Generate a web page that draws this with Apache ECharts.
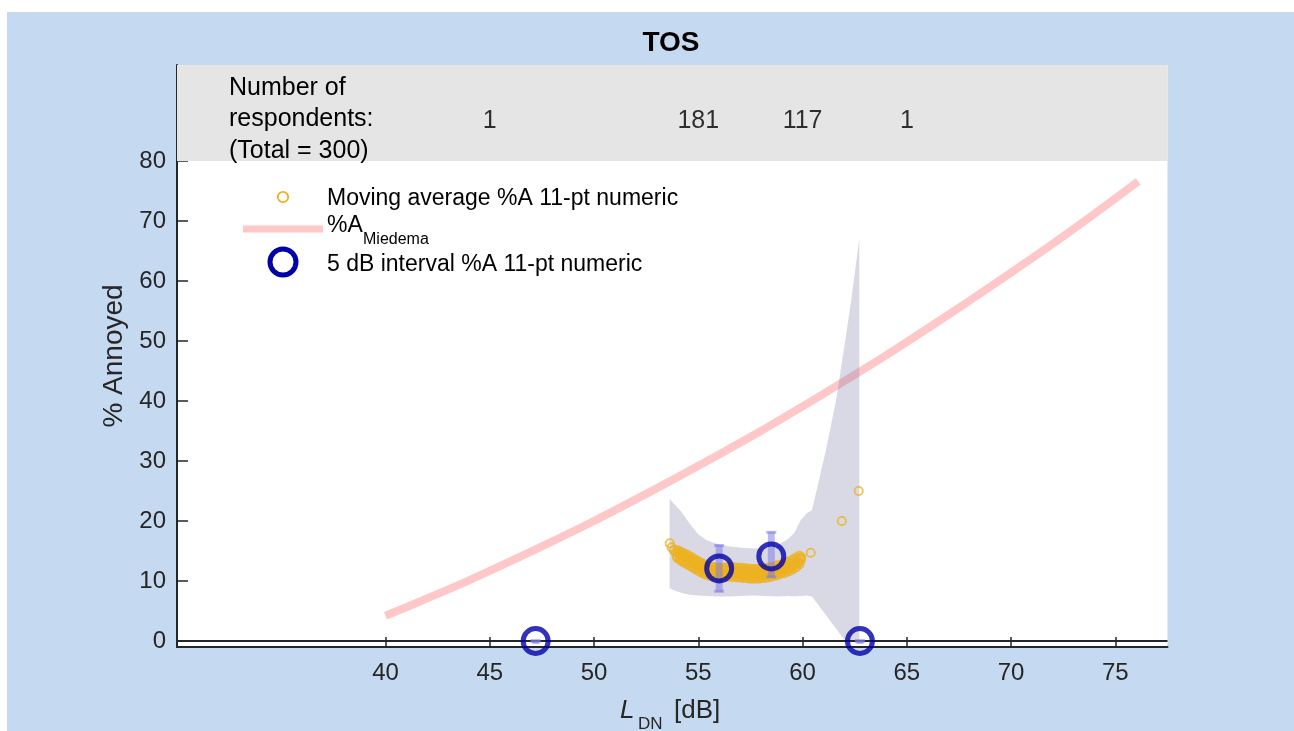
<!DOCTYPE html>
<html><head><meta charset="utf-8">
<script src="https://cdn.jsdelivr.net/npm/echarts@6/dist/echarts.min.js"></script>
<style>
html,body{margin:0;padding:0;background:#fff;width:1294px;height:731px;overflow:hidden}
#bg{position:absolute;left:7px;top:12px;width:1287px;height:719px;background:#c5d9f0}
#chart{position:absolute;left:0;top:0;width:1294px;height:731px}
</style></head><body><div id="bg"></div><div id="chart"></div>
<script>
const FONT = "'Liberation Sans', Arial, Helvetica, sans-serif";
const xTickValues = [40, 45, 50, 55, 60, 65, 70, 75];
const yTickValues = [0, 10, 20, 30, 40, 50, 60, 70, 80];

const miedemaX = [40, 42, 44, 46, 48, 50, 52, 54, 56, 58, 60, 62, 64, 66, 68, 70, 72, 74, 76.1];
const miedemaY = [4.2, 7.1, 10.1, 13.3, 16.6, 20.0, 23.6, 27.3, 31.1, 35.0, 39.1, 43.3, 47.6, 52.1, 56.7, 61.4, 66.2, 71.2, 76.6];

// moving-average cloud: x positions and rows across the dense band of circles (low .. high)
const maX     = [54.0, 54.15, 54.3, 54.45, 54.6, 54.75, 54.9, 55.05, 55.2, 55.35, 55.5, 55.65, 55.8, 55.95, 56.1, 56.25, 56.4, 56.55, 56.7, 56.85,
                 57.0, 57.15, 57.3, 57.45, 57.6, 57.75, 57.9, 58.05, 58.2, 58.35, 58.5, 58.65, 58.8, 58.95, 59.1, 59.25, 59.4, 59.55, 59.7, 59.85];
const maLow   = [13.8, 13.4, 13.1, 12.8, 12.5, 12.2, 11.9, 11.6, 11.3, 11.1, 10.9, 10.8, 10.7, 10.7, 10.6, 10.7, 10.7, 10.7, 10.7, 10.6,
                 10.6, 10.5, 10.5, 10.4, 10.4, 10.4, 10.4, 10.5, 10.5, 10.6, 10.7, 10.9, 11.0, 11.2, 11.3, 11.5, 11.7, 12.0, 12.3, 12.8];
const maLow2  = [14.15, 13.8, 13.5, 13.2, 12.9, 12.6, 12.3, 12.0, 11.7, 11.5, 11.3, 11.2, 11.1, 11.05, 11.0, 11.05, 11.1, 11.1, 11.1, 11.0,
                 11.0, 10.9, 10.9, 10.8, 10.8, 10.8, 10.8, 10.9, 10.9, 11.0, 11.1, 11.3, 11.4, 11.6, 11.7, 11.9, 12.1, 12.4, 12.7, 13.15];
const maMid   = [14.5, 14.2, 13.9, 13.6, 13.3, 13.0, 12.7, 12.4, 12.1, 11.9, 11.7, 11.6, 11.5, 11.45, 11.4, 11.45, 11.5, 11.5, 11.5, 11.45,
                 11.4, 11.35, 11.3, 11.25, 11.2, 11.2, 11.2, 11.25, 11.3, 11.4, 11.5, 11.65, 11.8, 11.95, 12.1, 12.3, 12.5, 12.8, 13.1, 13.5];
const maHigh2 = [14.8, 14.55, 14.25, 14.0, 13.7, 13.4, 13.1, 12.8, 12.5, 12.3, 12.1, 12.0, 11.9, 11.85, 11.8, 11.85, 11.9, 11.9, 11.9, 11.85,
                 11.8, 11.7, 11.7, 11.6, 11.6, 11.6, 11.6, 11.6, 11.7, 11.8, 11.9, 12.0, 12.2, 12.3, 12.5, 12.7, 12.9, 13.2, 13.5, 13.85];
const maHigh  = [15.1, 14.9, 14.6, 14.4, 14.1, 13.8, 13.5, 13.2, 12.9, 12.7, 12.5, 12.4, 12.3, 12.2, 12.2, 12.2, 12.3, 12.3, 12.3, 12.2,
                 12.2, 12.1, 12.1, 12.0, 12.0, 12.0, 12.0, 12.0, 12.1, 12.2, 12.3, 12.4, 12.6, 12.7, 12.9, 13.1, 13.3, 13.6, 13.9, 14.2];
const maSparse = [[53.63, 16.3], [53.72, 15.6], [53.83, 15.1], [53.92, 14.8], [59.94, 13.9], [60.39, 14.7], [61.88, 20.0], [62.69, 25.0]];

const bandX     = [53.62, 53.8, 54.2, 54.6, 55.0, 55.4, 55.8, 56.4, 57.0, 57.6, 58.2, 58.8, 59.3, 59.6, 59.9, 60.2, 60.45, 61.1, 61.6, 62.0, 62.3, 62.72];
const bandUpper = [23.7, 23.0, 21.5, 19.5, 17.8, 16.8, 16.3, 15.8, 15.6, 15.4, 15.5, 16.0, 17.0, 18.0, 20.1, 21.3, 21.8, 31.5, 40.0, 49.0, 56.0, 67.0];
const bandLower = [8.8, 8.5, 8.0, 7.7, 7.6, 7.5, 7.4, 7.4, 7.5, 7.6, 7.5, 7.4, 7.5, 7.4, 7.5, 7.6, 7.4, 4.4, 2.1, 0.2, 0.0, 0.0];

const intervalX    = [47.2, 56.0, 58.5, 62.75];
const intervalY    = [0, 12.1, 14.1, 0];
const intervalLow  = [0, 8.2, 10.6, 0];
const intervalHigh = [0, 16.0, 18.2, 0];

const respondentCounts = [1, 181, 117, 1];
const respondentLabelX = [45, 55, 60, 65];
const respondentLabelY = 86.7;

const chart = echarts.init(document.getElementById('chart'), null, {renderer: 'canvas'});

const zip = (a, b) => a.map((v, i) => [v, b[i]]);
const shift = (a, d) => a.map(v => v + d);
const movingAverage = [].concat(
  maSparse.slice(0, 4),
  zip(maX, maLow), zip(shift(maX, -0.035), maLow2), zip(shift(maX, 0.07), maMid),
  zip(shift(maX, 0.035), maHigh2), zip(maX, maHigh),
  maSparse.slice(4)
);

const option = {
  animation: false,
  backgroundColor: 'transparent',
  textStyle: {fontFamily: FONT},
  grid: {left: 177, top: 65, right: 126.5, bottom: 84, show: true, backgroundColor: '#fff', borderWidth: 0},
  xAxis: {
    type: 'value', min: 30, max: 77.5, interval: 5,
    axisLine: {show: true, onZero: false, lineStyle: {color: '#262626', width: 2}},
    axisTick: {show: true, inside: true, length: 10, customValues: xTickValues, lineStyle: {color: '#262626', width: 1.5}},
    axisLabel: {show: true, customValues: xTickValues, margin: 14, fontSize: 24, color: '#262626', fontFamily: FONT},
    splitLine: {show: false}
  },
  yAxis: {
    type: 'value', min: -1, max: 96,
    name: '% Annoyed', nameLocation: 'middle', nameRotate: 90, nameGap: 45,
    nameTextStyle: {fontSize: 28, color: '#262626', fontFamily: FONT},
    axisLine: {show: true, onZero: false, lineStyle: {color: '#262626', width: 2}},
    axisTick: {show: true, inside: true, length: 11, customValues: yTickValues, lineStyle: {color: '#262626', width: 1.5}},
    axisLabel: {show: true, customValues: yTickValues, margin: 11, fontSize: 24, color: '#262626', fontFamily: FONT},
    splitLine: {show: false}
  },
  series: [
    {
      name: 'zero', type: 'line', data: [[30, 0], [77.5, 0]], symbol: 'none', silent: true, z: 3,
      lineStyle: {color: '#262626', width: 2},
      markArea: {
        silent: true, itemStyle: {color: '#e5e5e5'},
        data: [[{coord: [30, 96]}, {coord: [77.5, 80]}]]
      }
    },
    {
      name: '%A Miedema', type: 'line', data: zip(miedemaX, miedemaY), symbol: 'none', smooth: 0.3, z: 2,
      lineStyle: {color: '#ffc8c8', width: 8, cap: 'butt'}
    },
    {
      name: 'band', type: 'custom', silent: true, z: 3,
      data: [[bandX[0], bandUpper[0]]],
      renderItem: function (params, api) {
        const pts = [];
        for (let i = 0; i < bandX.length; i++) pts.push(api.coord([bandX[i], bandUpper[i]]));
        for (let i = bandX.length - 1; i >= 0; i--) pts.push(api.coord([bandX[i], bandLower[i]]));
        return {type: 'polygon', shape: {points: pts}, style: {fill: 'rgba(103,103,155,0.25)', stroke: null}};
      }
    },
    {
      name: 'Moving average %A 11-pt numeric', type: 'scatter', data: movingAverage, z: 4,
      symbol: 'circle', symbolSize: 8.3,
      itemStyle: {color: 'rgba(0,0,0,0)', borderColor: '#edb120', borderWidth: 1.8}
    },
    {
      name: 'errorbars', type: 'custom', z: 5, silent: true,
      data: intervalX.map((x, i) => [x, intervalLow[i], intervalHigh[i]]),
      renderItem: function (params, api) {
        const x = api.value(0), lo = api.value(1), hi = api.value(2);
        const pLo = api.coord([x, lo]), pHi = api.coord([x, hi]);
        const col = 'rgba(120,120,230,0.5)';
        const h = Math.max(pLo[1] - pHi[1], 3);
        return {
          type: 'group', children: [
            {type: 'rect', shape: {x: pLo[0] - 3.5, y: pHi[1], width: 7, height: h}, style: {fill: col}},
            {type: 'rect', shape: {x: pLo[0] - 5, y: pHi[1] - 1, width: 10, height: 3}, style: {fill: col}},
            {type: 'rect', shape: {x: pLo[0] - 5, y: pLo[1] - 2, width: 10, height: 3}, style: {fill: col}}
          ]
        };
      }
    },
    {
      name: '5 dB interval %A 11-pt numeric', type: 'scatter', data: zip(intervalX, intervalY), z: 6,
      symbol: 'circle', symbolSize: 25,
      itemStyle: {color: 'rgba(0,0,0,0)', borderColor: '#0000a8', borderWidth: 5}
    },
    {
      name: 'counts', type: 'scatter', z: 7, silent: true, symbolSize: 0,
      data: respondentLabelX.map((x, i) => [x, respondentLabelY, respondentCounts[i]]),
      label: {
        show: true, position: 'inside', fontSize: 25, color: '#000', fontFamily: FONT,
        formatter: p => String(p.value[2])
      }
    }
  ],
  graphic: [
    {type: 'text', z: 20, style: {x: 671, y: 43, text: 'TOS', font: 'bold 28px ' + FONT, fill: '#000', align: 'center', verticalAlign: 'middle'}},
    {type: 'text', left: 229, top: 72, z: 20, style: {
      text: 'Number of\nrespondents:\n(Total = 300)', font: '25px ' + FONT, fill: '#000', lineHeight: 31.5}},
    // legend
    {type: 'circle', shape: {cx: 283, cy: 197, r: 5.2}, z: 20, style: {fill: 'none', stroke: '#edb120', lineWidth: 1.8}},
    {type: 'text', z: 20, style: {x: 327, y: 199, text: 'Moving average %A 11-pt numeric', font: '23px ' + FONT, fill: '#000', verticalAlign: 'middle'}},
    {type: 'line', shape: {x1: 243, y1: 229, x2: 323, y2: 229}, z: 20, style: {stroke: '#ffc8c8', lineWidth: 7}},
    {type: 'text', z: 20, style: {x: 327, y: 226, text: '%A', font: '23px ' + FONT, fill: '#000', verticalAlign: 'middle'}},
    {type: 'text', z: 20, style: {x: 363, y: 240, text: 'Miedema', font: '16px ' + FONT, fill: '#000', verticalAlign: 'middle'}},
    {type: 'circle', shape: {cx: 283, cy: 262, r: 13}, z: 20, style: {fill: 'none', stroke: '#0000a8', lineWidth: 5}},
    {type: 'text', z: 20, style: {x: 327, y: 265, text: '5 dB interval %A 11-pt numeric', font: '23px ' + FONT, fill: '#000', verticalAlign: 'middle'}},
    // x axis label
    {type: 'text', z: 20, style: {x: 620, y: 711, text: 'L', font: 'italic 26px ' + FONT, fill: '#262626', verticalAlign: 'middle'}},
    {type: 'text', z: 20, style: {x: 638, y: 724, text: 'DN', font: '17px ' + FONT, fill: '#262626', verticalAlign: 'middle'}},
    {type: 'text', z: 20, style: {x: 674, y: 711, text: '[dB]', font: '26px ' + FONT, fill: '#262626', verticalAlign: 'middle'}}
  ]
};
chart.setOption(option);
</script></body></html>
